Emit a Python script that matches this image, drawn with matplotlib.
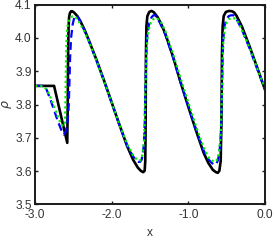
import numpy as np
import matplotlib
matplotlib.use("Agg")
import matplotlib.pyplot as plt

plt.rcParams['font.family'] = ['Liberation Sans', 'DejaVu Sans']

# black solid curve (x, rho)
x_black = [-3.0, -2.752, -2.58, -2.574, -2.569, -2.563, -2.556, -2.545, -2.53, -2.515,
           -2.49, -2.45, -2.41, -2.35, -2.30, -2.20, -2.10, -2.00, -1.90, -1.80, -1.72,
           -1.66, -1.62, -1.59, -1.57, -1.562, -1.557, -1.553, -1.547, -1.535, -1.51,
           -1.48, -1.45, -1.40, -1.35, -1.30, -1.20, -1.10, -1.00, -0.90, -0.80,
           -0.74, -0.68, -0.64, -0.615, -0.595, -0.578, -0.568, -0.561, -0.552, -0.538,
           -0.51, -0.47, -0.43, -0.40, -0.37, -0.30, -0.20, -0.10, 0.0]
rho_black = [3.856, 3.856, 3.685, 3.80, 3.95, 4.03, 4.062, 4.075, 4.080, 4.080,
             4.076, 4.066, 4.051, 4.022, 3.994, 3.935, 3.872, 3.806, 3.740, 3.676, 3.634,
             3.611, 3.601, 3.597, 3.601, 3.63, 3.75, 3.95, 4.035, 4.065, 4.078,
             4.081, 4.077, 4.062, 4.040, 4.012, 3.944, 3.866, 3.793, 3.722, 3.655,
             3.625, 3.604, 3.597, 3.595, 3.601, 3.63, 3.75, 3.95, 4.035, 4.066,
             4.078, 4.081, 4.080, 4.076, 4.066, 4.034, 3.974, 3.910, 3.845]

# blue dashed curve
x_blue = [-3.0, -2.90, -2.85, -2.80, -2.75, -2.70, -2.66, -2.625, -2.60, -2.575,
          -2.56, -2.55, -2.543, -2.53, -2.51, -2.49, -2.475, -2.45, -2.41, -2.35, -2.30,
          -2.20, -2.10, -2.00, -1.90, -1.80, -1.72, -1.68, -1.65, -1.63, -1.61,
          -1.595, -1.58, -1.568, -1.56, -1.55, -1.535, -1.51, -1.48, -1.455, -1.435,
          -1.41, -1.37, -1.30, -1.20, -1.10, -1.00, -0.90, -0.80, -0.74, -0.70,
          -0.67, -0.652, -0.635, -0.615, -0.595, -0.575, -0.563, -0.555, -0.545, -0.53,
          -0.50, -0.47, -0.44, -0.413, -0.39, -0.36, -0.30, -0.20, -0.10, 0.0]
rho_blue = [3.856, 3.856, 3.845, 3.815, 3.782, 3.748, 3.725, 3.710, 3.718, 3.75,
            3.80, 3.88, 3.94, 4.00, 4.040, 4.060, 4.068, 4.064, 4.050, 4.020, 3.992,
            3.933, 3.871, 3.805, 3.739, 3.678, 3.644, 3.632, 3.628, 3.628, 3.634,
            3.650, 3.68, 3.75, 3.85, 3.95, 4.01, 4.045, 4.062, 4.068, 4.068,
            4.062, 4.045, 4.010, 3.942, 3.866, 3.795, 3.725, 3.662, 3.636, 3.626,
            3.620, 3.619, 3.622, 3.632, 3.655, 3.71, 3.82, 3.92, 3.99, 4.035,
            4.058, 4.066, 4.068, 4.068, 4.063, 4.052, 4.024, 3.968, 3.906, 3.846]

# green dotted curve
x_green = [-3.0, -2.90, -2.85, -2.80, -2.75, -2.70, -2.66, -2.63, -2.612, -2.605,
           -2.600, -2.595, -2.585, -2.57, -2.54, -2.51, -2.48, -2.45, -2.41, -2.35, -2.30,
           -2.20, -2.10, -2.00, -1.90, -1.80, -1.72, -1.68, -1.65, -1.63, -1.61,
           -1.595, -1.58, -1.568, -1.558, -1.548, -1.53, -1.50, -1.47, -1.44, -1.41,
           -1.38, -1.35, -1.30, -1.20, -1.10, -1.00, -0.90, -0.80, -0.74, -0.70,
           -0.67, -0.652, -0.635, -0.615, -0.595, -0.575, -0.562, -0.553, -0.543, -0.525,
           -0.50, -0.47, -0.44, -0.41, -0.38, -0.35, -0.30, -0.20, -0.10, 0.0]
rho_green = [3.856, 3.855, 3.846, 3.822, 3.792, 3.762, 3.740, 3.735, 3.745, 3.78,
             3.86, 3.95, 4.015, 4.045, 4.060, 4.065, 4.064, 4.056, 4.042, 4.016, 3.990,
             3.932, 3.871, 3.806, 3.741, 3.681, 3.648, 3.637, 3.632, 3.632, 3.638,
             3.655, 3.69, 3.76, 3.86, 3.95, 4.01, 4.040, 4.054, 4.059, 4.059,
             4.054, 4.044, 4.020, 3.952, 3.878, 3.806, 3.735, 3.671, 3.643, 3.633,
             3.629, 3.628, 3.631, 3.640, 3.662, 3.72, 3.83, 3.93, 3.99, 4.025,
             4.046, 4.056, 4.060, 4.060, 4.056, 4.047, 4.024, 3.969, 3.908, 3.850]

xticks = [-3.0, -2.0, -1.0, 0.0]
xtick_labels = ['-3.0', '-2.0', '-1.0', '0.0']
yticks = [3.5, 3.6, 3.7, 3.8, 3.9, 4.0, 4.1]

fig = plt.figure(figsize=(2.74, 2.42), dpi=100)
ax = fig.add_axes([0.128, 0.155, 0.839, 0.826])

ax.plot(x_black, rho_black, color='k', lw=1.9, solid_joinstyle='round')
ax.plot(x_blue, rho_blue, color='#0000ff', lw=1.6, ls=(0, (3.5, 2.0)))
ax.plot(x_green, rho_green, color='#00ee00', lw=1.6, ls=(0, (1.0, 1.3)))

ax.set_xlim(-3.0, 0.0)
ax.set_ylim(3.5, 4.1)
ax.set_xticks(xticks)
ax.set_xticklabels(xtick_labels)
ax.set_yticks(yticks)
ax.set_yticklabels(['%.1f' % v for v in yticks])

for s in ax.spines.values():
    s.set_linewidth(1.4)
    s.set_color('#1a1a1a')
ax.tick_params(direction='in', length=2.5, width=1.0, top=True, right=True,
               labelsize=8.6, colors='#1a1a1a')
ax.tick_params(axis='x', pad=3.5)
ax.tick_params(axis='y', pad=2.5)
ax.tick_params(labelcolor='#333333')

ax.set_xlabel('x', fontsize=8.6, color='#333333', labelpad=4)
ax.set_ylabel(r'$\rho$', fontsize=9, color='#333333', labelpad=1)

fig.savefig('out.png', dpi=100)
